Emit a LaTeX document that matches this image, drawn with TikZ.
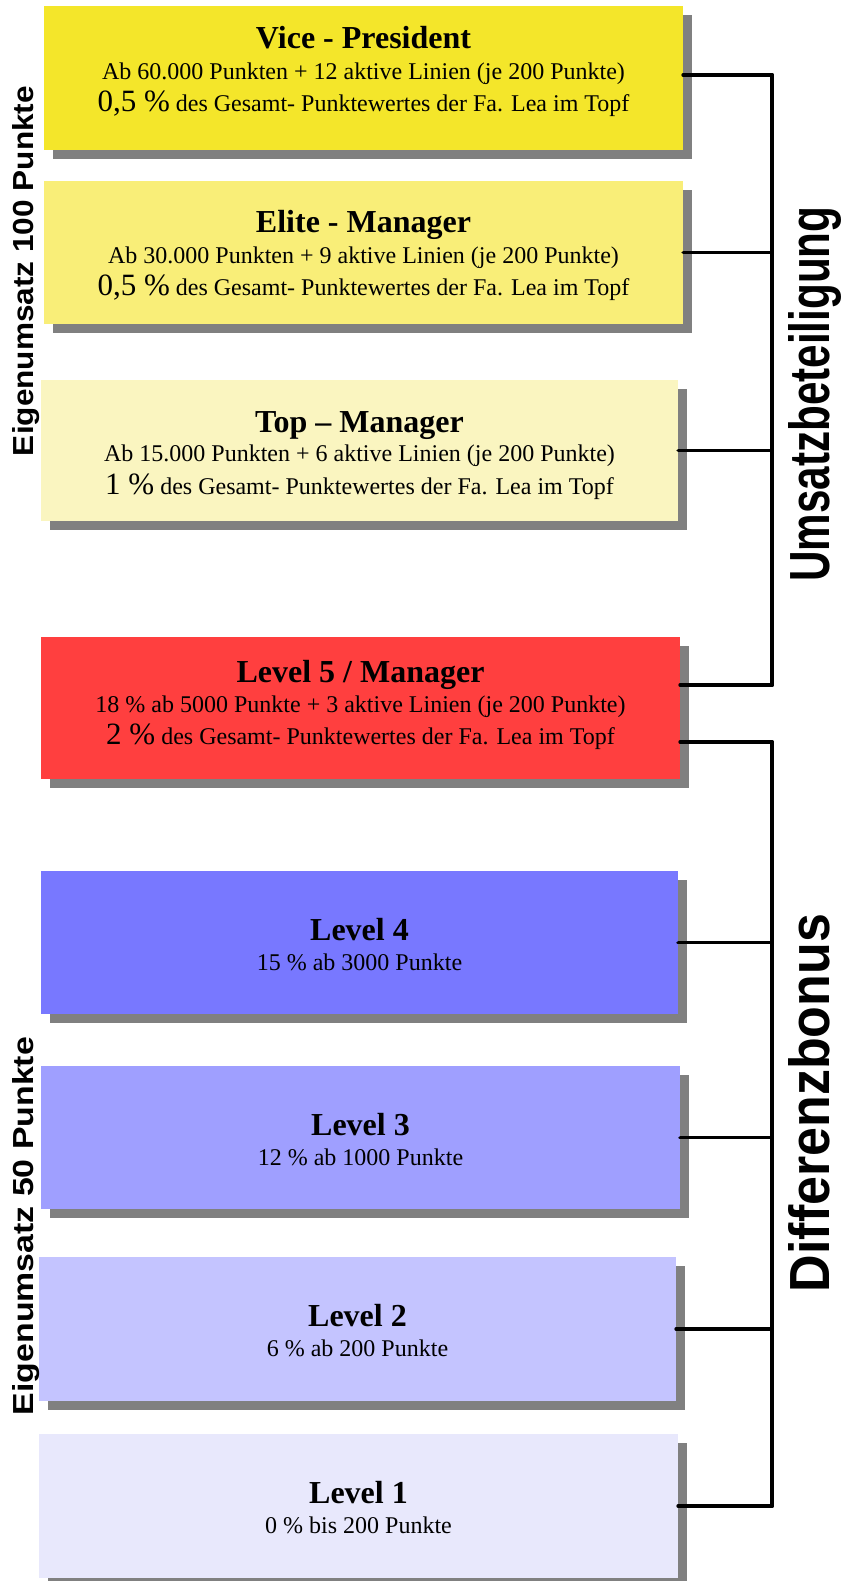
\documentclass[tikz,border=0pt]{standalone}
\usepackage{graphicx}
\usepackage{fontspec}
\setmainfont{Liberation Serif}
\newfontfamily\seitenschrift{Liberation Sans}
\usetikzlibrary{shadows}
\usetikzlibrary{calc,positioning}

\definecolor{vpgelb}{HTML}{F4E62A}
\definecolor{emgelb}{HTML}{F9EE78}
\definecolor{tmgelb}{HTML}{FAF5C0}
\definecolor{lfrot}{HTML}{FF3F3F}
\definecolor{lvier}{HTML}{7878FF}
\definecolor{ldrei}{HTML}{9F9FFF}
\definecolor{lzwei}{HTML}{C4C4FF}
\definecolor{leins}{HTML}{E8E8FC}

\tikzset{
  stufe/.style={rectangle, inner sep=0pt,
    drop shadow={shadow xshift=9pt, shadow yshift=-9pt, fill=black!50, opacity=1}},
  titel/.style={anchor=base, inner sep=0pt, font=\fontsize{32}{36}\selectfont\bfseries},
  zeile/.style={anchor=base, inner sep=0pt, font=\fontsize{24}{28}\selectfont},
  link/.style={line width=3.8pt, line cap=round},
  seite/.style={rotate=90, anchor=base, inner sep=0pt, font=\seitenschrift\bfseries},
}
\newcommand{\gross}[1]{{\fontsize{31}{36}\selectfont #1}}

\begin{document}
\begin{tikzpicture}[x=1pt,y=-1pt]
\useasboundingbox (0,0) rectangle (842,1581);

% Umsatzbeteiligung
	\node[stufe, fill=vpgelb, minimum width=639pt, minimum height=144pt] (vp) at (363.5,78) {};
	\node[titel] (vpT) at ([yshift=-43pt]vp.north) {Vice - President};
	\node[zeile] (vpA) at ([yshift=-74pt]vp.north) {Ab 60.000 Punkten + 12 aktive Linien (je 200 Punkte)};
	\node[zeile] (vpB) at ([yshift=-106pt]vp.north) {\gross{0,5 \%} des Gesamt- Punktewertes der Fa. Lea im Topf};

	\node[stufe, fill=emgelb, minimum width=639pt, minimum height=143pt] (em) at (363.5,252.5) {};
	\node[titel] (emT) at ([yshift=-52pt]em.north) {Elite - Manager};
	\node[zeile] (emA) at ([yshift=-83pt]em.north) {Ab 30.000 Punkten + 9 aktive Linien (je 200 Punkte)};
	\node[zeile] (emB) at ([yshift=-115pt]em.north) {\gross{0,5 \%} des Gesamt- Punktewertes der Fa. Lea im Topf};

	\node[stufe, fill=tmgelb, minimum width=637pt, minimum height=141pt] (tm) at (359.5,450.5) {};
	\node[titel] (tmT) at ([yshift=-53pt]tm.north) {Top – Manager};
	\node[zeile] (tmA) at ([yshift=-82pt]tm.north) {Ab 15.000 Punkten + 6 aktive Linien (je 200 Punkte)};
	\node[zeile] (tmB) at ([yshift=-115pt]tm.north) {\gross{1 \%} des Gesamt- Punktewertes der Fa. Lea im Topf};

	\node[stufe, fill=lfrot, minimum width=639pt, minimum height=142pt] (l5) at (360.5,708) {};
	\node[titel] (l5T) at ([yshift=-46pt]l5.north) {Level 5 / Manager};
	\node[zeile] (l5A) at ([yshift=-76pt]l5.north) {18 \% ab 5000 Punkte + 3 aktive Linien (je 200 Punkte)};
	\node[zeile] (l5B) at ([yshift=-108pt]l5.north) {\gross{2 \%} des Gesamt- Punktewertes der Fa. Lea im Topf};

% Differenzbonus
	\foreach \n/\cx/\cy/\w/\h/\c/\t/\s in {
		l4/359.5/942.5/637/143/lvier/4/15 \% ab 3000 Punkte,
		l3/360.5/1137.5/639/143/ldrei/3/12 \% ab 1000 Punkte,
		l2/357.5/1329/637/144/lzwei/2/6 \% ab 200 Punkte,
		l1/358.5/1506/639/144/leins/1/0 \% bis 200 Punkte}
	{
		\node[stufe, fill=\c, minimum width=\w pt, minimum height=\h pt] (\n) at (\cx,\cy) {};
		\node[titel] (\n T) at ([yshift=-70pt]\n.north) {Level \t};
		\node[zeile] (\n A) at ([yshift=-100pt]\n.north) {\s};
	}

% Verbindungen
	\coordinate (bus) at (772,0);
	\coordinate (vpR) at ([yshift=3pt]vp.east);
	\coordinate (l5o) at ([yshift=23pt]l5.east);
	\coordinate (l5u) at ([yshift=-34pt]l5.east);
	\foreach \b in {vpR,em,tm,l5o,l5u,l4,l3,l2,l1}
		\draw[link] (\b) -- (\b -| bus);
	\draw[link] (vpR -| bus) -- (l5o -| bus);
	\draw[link] (l5u -| bus) -- (l1 -| bus);

% Beschriftung
	\node[seite] (eu100) at (33,271) {\resizebox{370pt}{21pt}{Eigenumsatz 100 Punkte}};
	\node[seite] (eu50) at (33,1226) {\resizebox{378pt}{21pt}{Eigenumsatz 50 Punkte}};
	\node[seite] (ub) at (829,394) {\resizebox{375pt}{41pt}{Umsatzbeteiligung}};
	\node[seite] (db) at (829,1103) {\resizebox{378pt}{41pt}{Differenzbonus}};
\end{tikzpicture}
\end{document}
